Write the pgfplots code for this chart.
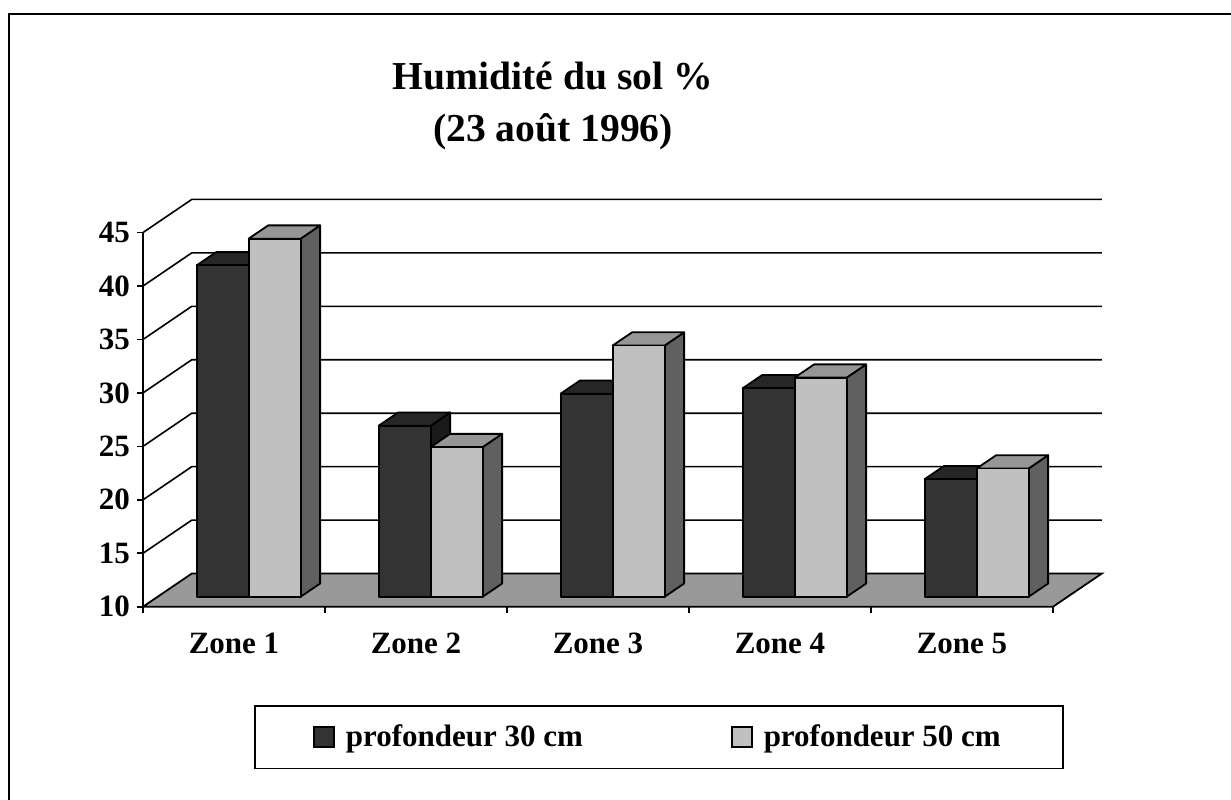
\documentclass[border=0pt]{standalone}
\usepackage{fontspec}
\setmainfont{Liberation Serif}
\usepackage{pgfplots}
\usepackage{pgfplotstable}
\pgfplotsset{compat=1.18}

\definecolor{darkfront}{HTML}{333333}
\definecolor{darktop}{HTML}{262626}
\definecolor{darkside}{HTML}{1A1A1A}
\definecolor{lightfront}{HTML}{C0C0C0}
\definecolor{lighttop}{HTML}{969696}
\definecolor{lightside}{HTML}{606060}
\definecolor{floorgray}{HTML}{999999}

% humidity values (%) : a = depth 30 cm, b = depth 50 cm
\pgfplotstableread{
zone a b
1 41 43.5
2 26 24
3 29 33.5
4 29.5 30.5
5 21 22
}\datatable

\tikzset{barline/.style={line width=0.9bp, line join=round}}

% draws one 3D box bar: #1 left x on front plane, #2 value, #3 front, #4 top, #5 side colour
\newcommand\boxbar[5]{%
  \pgfmathsetmacro\La{#1+0.0804}%
  \pgfmathsetmacro\Lb{\La+0.2857}%
  \pgfmathsetmacro\Lc{\La+0.1072}%
  \pgfmathsetmacro\Ld{\Lb+0.1072}%
  \pgfmathsetmacro\Ta{#2+0.93}%
  \pgfmathsetmacro\Tb{\Ta+1.24}%
  \edef\temp{%
    \noexpand\addplot[forget plot, fill=#5, draw=black, barline] coordinates {(\Lb,10.93) (\Ld,12.17) (\Ld,\Tb) (\Lb,\Ta)} -- cycle;
    \noexpand\addplot[forget plot, fill=#4, draw=black, barline] coordinates {(\La,\Ta) (\Lb,\Ta) (\Ld,\Tb) (\Lc,\Tb)} -- cycle;
    \noexpand\addplot[forget plot, fill=#3, draw=black, barline] coordinates {(\La,10.93) (\Lb,10.93) (\Lb,\Ta) (\La,\Ta)} -- cycle;
  }\temp
}

\begin{document}
\begin{tikzpicture}
\useasboundingbox (0,0) rectangle (615.5bp,-400bp);
\fill[white] (0,0) rectangle (615.5bp,-400bp);
\draw[line width=1bp] (4.5bp,-400bp) -- (4.5bp,-7.15bp) -- (615.5bp,-7.15bp);

\node[font=\fontsize{19.8bp}{26bp}\selectfont\bfseries, align=center] at (276.5bp,-53bp)
  {Humidité du sol \%\\(23 août 1996)};

\begin{axis}[
  x=91bp, y=5.345bp,
  at={(71.5bp,-303.35bp)}, anchor=south west,
  xmin=0, xmax=5.268, ymin=10, ymax=48.1,
  clip=false,
  axis line style={draw=none},
  tick align=outside,
  major tick length=3bp,
  tick style={black, line width=0.8bp},
  xtick pos=bottom, ytick pos=left,
  xtick={0,...,5}, xticklabels={},
  extra x ticks={0.5,1.5,2.5,3.5,4.5},
  extra x tick labels={Zone 1,Zone 2,Zone 3,Zone 4,Zone 5},
  extra x tick style={major tick length=0pt},
  ytick={10,15,...,45},
  /pgf/number format/assume math mode=true,
  ticklabel style={font=\fontsize{15.5bp}{18bp}\selectfont\bfseries},
  xticklabel style={yshift=-9.5bp},
  legend image code/.code={\draw[#1, line width=0.8bp] (0bp,-5bp) rectangle (10bp,5bp); \path[draw=none, fill=none] (0bp,0bp) -- (14bp,0bp);},
  legend columns=2,
  legend style={at={(axis cs:2.835,-2.2)}, anchor=center, draw=black, line width=0.9bp,
    font=\fontsize{15.5bp}{18bp}\selectfont\bfseries,
    inner xsep=29bp, inner ysep=7.5bp,
    /tikz/every even column/.append style={column sep=72bp}},
]
% walls: side-wall diagonals and back-wall gridlines
\pgfplotsforeachungrouped \v in {15,20,...,45}{%
  \pgfmathsetmacro\vv{\v+3.1}%
  \edef\temp{\noexpand\addplot[forget plot, black, line width=0.8bp] coordinates {(0,\v) (0.268,\vv) (5.268,\vv)};}\temp
}
% floor
\addplot[forget plot, fill=floorgray, draw=black, line width=0.9bp] coordinates {(0,10) (5,10) (5.268,13.1) (0.268,13.1)} -- cycle;
% front value axis
\addplot[forget plot, black, line width=0.9bp] coordinates {(0,10) (0,45)};
% bars
\pgfplotsforeachungrouped \i in {0,...,4}{%
  \pgfplotstablegetelem{\i}{a}\of\datatable \let\va\pgfplotsretval
  \pgfplotstablegetelem{\i}{b}\of\datatable \let\vb\pgfplotsretval
  \pgfmathsetmacro\xl{\i+0.5-0.2857}%
  \pgfmathsetmacro\xm{\i+0.5}%
  \boxbar{\xl}{\va}{darkfront}{darktop}{darkside}%
  \boxbar{\xm}{\vb}{lightfront}{lighttop}{lightside}%
}
\addlegendimage{fill=darkfront, draw=black}
\addlegendentry{profondeur 30 cm}
\addlegendimage{fill=lightfront, draw=black}
\addlegendentry{profondeur 50 cm}
\end{axis}
\end{tikzpicture}
\end{document}
